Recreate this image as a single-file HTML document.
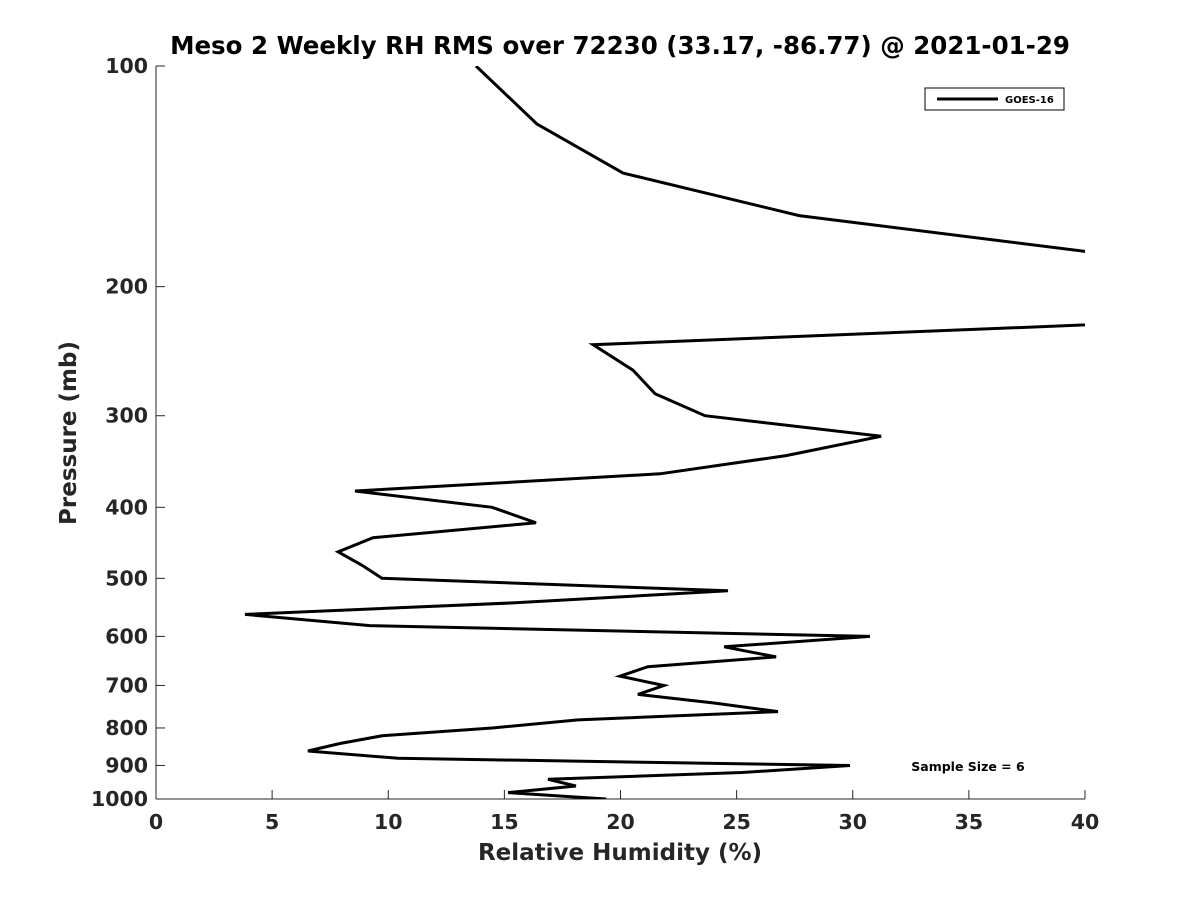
<!DOCTYPE html>
<html><head><meta charset="utf-8"><style>
body{margin:0;background:#fff;}
svg{display:block;font-family:"DejaVu Sans","Liberation Sans",sans-serif;}
</style></head><body>
<svg id="chart" width="1200" height="900">
<defs><clipPath id="plotclip"><rect x="156" y="66" width="929" height="733"/></clipPath></defs>
<text x="620" y="54" text-anchor="middle" font-size="24.5" font-weight="bold" fill="#000">Meso 2 Weekly RH RMS over 72230 (33.17, -86.77) @ 2021-01-29</text>
<g id="axes"></g>
<g id="series" clip-path="url(#plotclip)"></g>
<g>
<rect x="925" y="88" width="139" height="22" fill="#fff" stroke="#000" stroke-width="1"/>
<line x1="937" y1="99" x2="998" y2="99" stroke="#000" stroke-width="3"/>
<text x="1005" y="103" font-size="10" font-weight="bold" fill="#000">GOES-16</text>
</g>
<text x="968" y="771" text-anchor="middle" font-size="12.5" font-weight="bold" fill="#000">Sample Size = 6</text>
<text x="620" y="860" text-anchor="middle" font-size="23" font-weight="bold" fill="#262626">Relative Humidity (%)</text>
<text transform="translate(76,433) rotate(-90)" text-anchor="middle" font-size="23" font-weight="bold" fill="#262626">Pressure (mb)</text>
</svg>
<script>
const pressures=[100,120,140,160,180,200,220,240,260,280,300,320,340,360,380,400,420,440,460,480,500,520,540,560,580,600,620,640,660,680,700,720,740,760,780,800,820,840,860,880,900,920,940,960,980,1000];
const rhRms=[13.78,16.40,20.11,27.69,40.6,44,48.5,18.82,20.54,21.49,23.64,31.22,27.13,21.70,8.57,14.47,16.36,9.34,7.84,8.87,9.73,24.63,15.46,3.83,9.21,30.74,24.46,26.70,21.18,19.98,21.87,20.75,24.07,26.78,18.17,14.47,9.73,7.92,6.54,10.42,29.88,25.23,16.88,18.08,15.16,19.38];
const xTicks=[0,5,10,15,20,25,30,35,40];
const yTicks=[100,200,300,400,500,600,700,800,900,1000];
const L=156,R=1085,T=66,B=799;
const xs=v=>L+(v-0)/(40-0)*(R-L);
const ys=p=>T+Math.log10(p/100)*(B-T);
const NS="http://www.w3.org/2000/svg";
const axes=document.getElementById('axes');
function mk(tag,attrs,parent){const e=document.createElementNS(NS,tag);for(const k in attrs)e.setAttribute(k,attrs[k]);parent.appendChild(e);return e;}
const xl=mk('line',{x1:L,y1:B,x2:R,y2:B,stroke:'#262626','stroke-width':1},axes);


const yl=mk('line',{x1:L,y1:T,x2:L,y2:B,stroke:'#262626','stroke-width':1},axes);


xTicks.forEach(v=>{
  const x=xs(v);
  mk('line',{x1:x,y1:B,x2:x,y2:B-9,stroke:'#262626'},axes);
  const t=mk('text',{x:x,y:B+30,'text-anchor':'middle','font-size':20.5,'font-weight':'bold',fill:'#262626'},axes);
  t.textContent=v;
  
  
});
yTicks.forEach(p=>{
  const y=ys(p);
  mk('line',{x1:L,y1:y,x2:L+9,y2:y,stroke:'#262626'},axes);
  const t=mk('text',{x:L-8,y:y+7,'text-anchor':'end','font-size':20.5,'font-weight':'bold',fill:'#262626'},axes);
  t.textContent=p;
  
  
});
const pts=pressures.map((p,i)=>xs(rhRms[i]).toFixed(1)+','+ys(p).toFixed(1)).join(' ');
const line=mk('polyline',{points:pts,fill:'none',stroke:'#000','stroke-width':3,'stroke-linejoin':'miter'},document.getElementById('series'));


</script>
</body></html>
